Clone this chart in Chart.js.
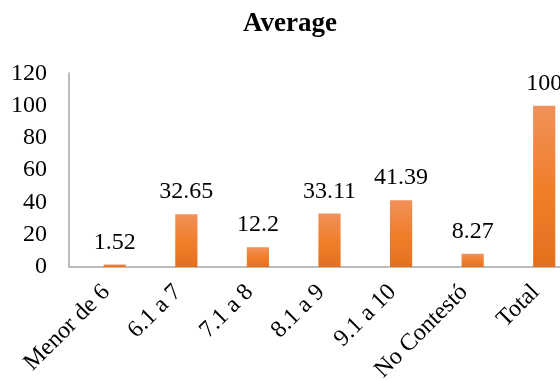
<!DOCTYPE html>
<html>
<head>
<meta charset="utf-8">
<script src="https://cdn.jsdelivr.net/npm/chart.js@4"></script>
<style>
    html, body { margin: 0; padding: 0; background: #fff; overflow: hidden; }
    #wrap { width: 590px; height: 381px; }
</style>
</head>
<body>
<div id="wrap"><canvas id="chart" width="590" height="381"></canvas></div>
<script>
// Chart data
const categories = ['Menor de 6', '6.1 a 7', '7.1 a 8', '8.1 a 9', '9.1 a 10', 'No Contestó', 'Total'];
const averageValues = [1.52, 32.65, 12.2, 33.11, 41.39, 8.27, 100];
const yTicks = [0, 20, 40, 60, 80, 100, 120];

const FONT = "'Liberation Serif', 'Times New Roman', serif";
const AXIS_COLOR = '#a6a6a6';

// Per-bar vertical gradient: light orange on top, darker at the base
function barGradient(ctx) {
    const chart = ctx.chart;
    const area = chart.chartArea;
    if (!area || ctx.raw === undefined) return '#ed7d31';
    const top = chart.scales.y.getPixelForValue(ctx.raw);
    const g = chart.ctx.createLinearGradient(0, top, 0, area.bottom);
    g.addColorStop(0, '#f19159');
    g.addColorStop(0.5, '#f07f2c');
    g.addColorStop(1, '#e4701e');
    return g;
}

// Value labels above each bar
const valueLabels = {
    id: 'valueLabels',
    afterDatasetsDraw(chart) {
        const ctx = chart.ctx;
        const meta = chart.getDatasetMeta(0);
        ctx.save();
        ctx.font = '24px ' + FONT;
        ctx.fillStyle = '#000';
        ctx.textAlign = 'center';
        ctx.textBaseline = 'alphabetic';
        meta.data.forEach((bar, i) => {
            ctx.fillText(String(averageValues[i]), bar.x, bar.y - 16);
        });
        ctx.restore();
    }
};

// Axis lines (the value axis sits a little left of the first category slot)
const axisLines = {
    id: 'axisLines',
    beforeDatasetsDraw(chart) {
        const a = chart.chartArea;
        const ctx = chart.ctx;
        const x0 = a.left - 10;
        ctx.save();
        ctx.strokeStyle = AXIS_COLOR;
        ctx.lineWidth = 1.5;
        ctx.beginPath();
        ctx.moveTo(x0, a.top - 1);
        ctx.lineTo(x0, a.bottom);
        ctx.lineTo(a.right + 20, a.bottom);
        ctx.stroke();
        ctx.restore();
    }
};

new Chart(document.getElementById('chart'), {
    type: 'bar',
    data: {
        labels: categories,
        datasets: [{
            label: 'Average',
            data: averageValues,
            backgroundColor: barGradient,
            borderWidth: 0,
            categoryPercentage: 1,
            barPercentage: 0.31
        }]
    },
    options: {
        responsive: false,
        animation: false,
        layout: { padding: { left: 0, right: 10, top: 0, bottom: 0 } },
        plugins: {
            legend: { display: false },
            tooltip: { enabled: false },
            title: {
                display: true,
                text: 'Average',
                color: '#000',
                font: { family: FONT, size: 27, weight: 'bold', lineHeight: 1.2 },
                padding: { top: 8, bottom: 33 }
            }
        },
        scales: {
            x: {
                grid: { display: false, drawTicks: false },
                border: { display: false },
                afterFit(scale) { scale.height = 114; },
                ticks: {
                    autoSkip: false,
                    maxRotation: 45,
                    minRotation: 45,
                    padding: 3,
                    color: '#000',
                    font: { family: FONT, size: 24 },
                    // trailing spaces nudge the rotated text down-left of the tick
                    callback(value) { return categories[value] + '  '; }
                }
            },
            y: {
                min: 0,
                max: 120,
                afterFit(scale) { scale.width = 79; },
                afterBuildTicks(scale) { scale.ticks = yTicks.map(v => ({ value: v })); },
                grid: { display: false, drawTicks: false },
                border: { display: false },
                ticks: {
                    padding: 32,
                    color: '#000',
                    font: { family: FONT, size: 24 }
                }
            }
        }
    },
    plugins: [axisLines, valueLabels]
});
</script>
</body>
</html>
